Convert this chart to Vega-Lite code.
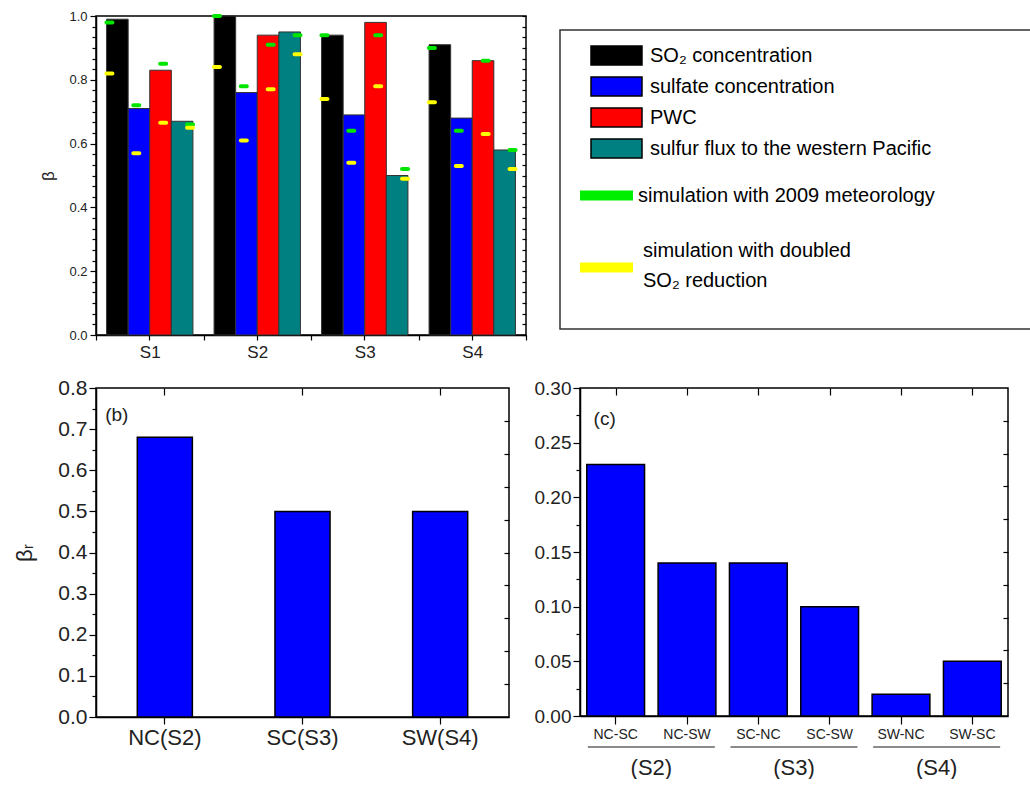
{
  "$schema": "https://vega.github.io/schema/vega-lite/v6.json",
  "padding": {"left": 13, "top": 9, "right": 0, "bottom": 0},
  "config": {
    "font": "Liberation Sans",
    "view": {"stroke": "black", "strokeWidth": 1.5},
    "axis": {"domainColor": "black", "tickColor": "black", "labelColor": "#222", "grid": false, "domainWidth": 1.5, "tickWidth": 1.2, "titleFontWeight": "normal", "titleColor": "#222"},
    "style": {"guide-label": {"lineHeight": 30}}
  },
  "datasets": {
    "top": [
      {"scenario": "S1", "var": "SO2", "beta": 0.99, "met2009": 0.98, "dbl": 0.82},
      {"scenario": "S1", "var": "sulfate", "beta": 0.71, "met2009": 0.72, "dbl": 0.57},
      {"scenario": "S1", "var": "PWC", "beta": 0.83, "met2009": 0.85, "dbl": 0.665},
      {"scenario": "S1", "var": "flux", "beta": 0.67, "met2009": 0.66, "dbl": 0.65},
      {"scenario": "S2", "var": "SO2", "beta": 1.0, "met2009": 1.0, "dbl": 0.84},
      {"scenario": "S2", "var": "sulfate", "beta": 0.76, "met2009": 0.78, "dbl": 0.61},
      {"scenario": "S2", "var": "PWC", "beta": 0.94, "met2009": 0.91, "dbl": 0.77},
      {"scenario": "S2", "var": "flux", "beta": 0.95, "met2009": 0.94, "dbl": 0.88},
      {"scenario": "S3", "var": "SO2", "beta": 0.94, "met2009": 0.94, "dbl": 0.74},
      {"scenario": "S3", "var": "sulfate", "beta": 0.69, "met2009": 0.64, "dbl": 0.54},
      {"scenario": "S3", "var": "PWC", "beta": 0.98, "met2009": 0.94, "dbl": 0.78},
      {"scenario": "S3", "var": "flux", "beta": 0.5, "met2009": 0.52, "dbl": 0.49},
      {"scenario": "S4", "var": "SO2", "beta": 0.91, "met2009": 0.9, "dbl": 0.73},
      {"scenario": "S4", "var": "sulfate", "beta": 0.68, "met2009": 0.64, "dbl": 0.53},
      {"scenario": "S4", "var": "PWC", "beta": 0.86, "met2009": 0.86, "dbl": 0.63},
      {"scenario": "S4", "var": "flux", "beta": 0.58, "met2009": 0.58, "dbl": 0.52}
    ],
    "b": [
      {"region": "NC(S2)", "br": 0.68},
      {"region": "SC(S3)", "br": 0.5},
      {"region": "SW(S4)", "br": 0.5}
    ],
    "c": [
      {"pair": "NC-SC", "group": "(S2)", "v": 0.23},
      {"pair": "NC-SW", "group": "(S2)", "v": 0.14},
      {"pair": "SC-NC", "group": "(S3)", "v": 0.14},
      {"pair": "SC-SW", "group": "(S3)", "v": 0.1},
      {"pair": "SW-NC", "group": "(S4)", "v": 0.02},
      {"pair": "SW-SC", "group": "(S4)", "v": 0.05}
    ]
  },
  "concat": [
    {
      "concat": [
        {
          "width": 430,
          "height": 319,
          "data": {"name": "top"},
          "layer": [
            {
              "mark": {"type": "bar", "stroke": "#333", "strokeWidth": 1},
              "encoding": {
                "x": {"field": "scenario", "type": "nominal", "scale": {"paddingInner": 0, "paddingOuter": 0},
                  "axis": {"title": null, "labelAngle": 0, "tickBand": "extent", "labelFontSize": 17, "labelPadding": 4, "tickSize": 5}},
                "xOffset": {"field": "var", "type": "nominal", "scale": {"domain": ["SO2", "sulfate", "PWC", "flux"], "paddingInner": 0, "paddingOuter": 0.49}},
                "y": {"field": "beta", "type": "quantitative", "scale": {"domain": [0, 1], "nice": false},
                  "axis": {"title": "β", "titleFontSize": 17, "titlePadding": 11, "values": [0, 0.2, 0.4, 0.6, 0.8, 1.0], "format": ".1f", "labelFontSize": 13, "labelPadding": 3, "tickSize": 6}},
                "fill": {"field": "var", "type": "nominal", "scale": {"domain": ["SO2", "sulfate", "PWC", "flux"], "range": ["#000000", "#0000ff", "#ff0000", "#008080"]}, "legend": null}
              }
            },
            {
              "mark": {"type": "tick", "color": "#00e600", "thickness": 4, "size": 10, "cornerRadius": 2, "opacity": 1},
              "encoding": {
                "x": {"field": "scenario", "type": "nominal", "axis": {"title": null, "orient": "bottom", "labels": false, "domain": false, "tickSize": 5}},
                "xOffset": {"field": "var", "type": "nominal", "scale": {"domain": ["SO2", "sulfate", "PWC", "flux"], "paddingInner": 0, "paddingOuter": 0}},
                "y": {"field": "met2009", "type": "quantitative", "scale": {"domain": [0, 1], "nice": false},
                  "axis": {"title": null, "orient": "right", "labels": false, "domain": false, "tickSize": -4, "values": [0, 0.0333, 0.0667, 0.1, 0.1333, 0.1667, 0.2, 0.2333, 0.2667, 0.3, 0.3333, 0.3667, 0.4, 0.4333, 0.4667, 0.5, 0.5333, 0.5667, 0.6, 0.6333, 0.6667, 0.7, 0.7333, 0.7667, 0.8, 0.8333, 0.8667, 0.9, 0.9333, 0.9667, 1]}}
              }
            },
            {
              "mark": {"type": "tick", "color": "#ffff00", "thickness": 4, "size": 10, "cornerRadius": 2, "opacity": 1},
              "encoding": {
                "x": {"field": "scenario", "type": "nominal", "axis": null},
                "xOffset": {"field": "var", "type": "nominal", "scale": {"domain": ["SO2", "sulfate", "PWC", "flux"], "paddingInner": 0, "paddingOuter": 0}},
                "y": {"field": "dbl", "type": "quantitative", "scale": {"domain": [0, 1], "nice": false},
                  "axis": {"title": null, "orient": "left", "labels": false, "domain": false, "tickSize": 4, "values": [0.0333, 0.0667, 0.1, 0.1333, 0.1667, 0.2333, 0.2667, 0.3, 0.3333, 0.3667, 0.4333, 0.4667, 0.5, 0.5333, 0.5667, 0.6333, 0.6667, 0.7, 0.7333, 0.7667, 0.8333, 0.8667, 0.9, 0.9333, 0.9667]}}
              }
            }
          ],
          "resolve": {"scale": {"xOffset": "independent"}, "axis": {"x": "independent", "y": "independent"}}
        },
        {
          "concat": [
            {
              "width": 10,
              "height": 9,
              "view": {"stroke": null},
              "data": {"values": [{"a": 1}]},
              "mark": {"type": "point", "opacity": 0},
              "encoding": {}
            },
            {
              "width": 475,
              "height": 299,
              "view": {"stroke": "#333", "strokeWidth": 1.5},
              "layer": [
                {
                  "data": {"values": [{"s": "SO₂ concentration"}, {"s": "sulfate concentration"}, {"s": "PWC"}, {"s": "sulfur flux to the western Pacific"}]},
                  "mark": {"type": "point", "filled": true, "opacity": 0},
                  "encoding": {
                    "fill": {"field": "s", "type": "nominal",
                      "scale": {"domain": ["SO₂ concentration", "sulfate concentration", "PWC", "sulfur flux to the western Pacific"], "range": ["#000000", "#0000ff", "#ff0000", "#008080"]},
                      "legend": {"orient": "none", "legendX": 46, "legendY": 15, "title": null, "direction": "vertical",
                        "symbolType": "M-2.684,-1H2.684V1H-2.684Z", "symbolSize": 361, "symbolOpacity": 1,
                        "symbolStrokeColor": "black", "symbolStrokeWidth": 1.5,
                        "labelFontSize": 20, "labelColor": "black", "labelOffset": 23, "labelLimit": 600, "rowPadding": 6,
                        "encode": {"symbols": {"update": {"stroke": {"value": "black"}, "strokeWidth": {"value": 1.5}, "opacity": {"value": 1}}}}}
                    }
                  }
                },
                {
                  "data": {"values": [{"m": "simulation with 2009 meteorology"}]},
                  "mark": {"type": "point", "opacity": 0},
                  "encoding": {
                    "stroke": {"field": "m", "type": "nominal",
                      "scale": {"domain": ["simulation with 2009 meteorology"], "range": ["#00ee00"]},
                      "legend": {"orient": "none", "legendX": 32, "legendY": 151, "title": null, "direction": "vertical",
                        "symbolType": "M-2.79,0H2.79", "symbolSize": 361, "symbolStrokeWidth": 10, "symbolOpacity": 1,
                        "labelFontSize": 20, "labelColor": "black", "labelOffset": 17, "labelLimit": 600}
                    }
                  }
                },
                {
                  "data": {"values": [{"d": "simulation with doubled SO₂ reduction"}]},
                  "mark": {"type": "point", "opacity": 0},
                  "encoding": {
                    "color": {"field": "d", "type": "nominal",
                      "scale": {"domain": ["simulation with doubled SO₂ reduction"], "range": ["#ffff00"]},
                      "legend": {"orient": "none", "legendX": 32, "legendY": 206, "title": null, "direction": "vertical",
                        "symbolType": "M-2.79,1.8H2.79", "symbolSize": 361, "symbolStrokeWidth": 10, "symbolOpacity": 1, "symbolStrokeColor": "#ffff00",
                        "labelFontSize": 20, "labelColor": "black", "labelOffset": 22, "labelLimit": 600,
                        "labelExpr": "['simulation with doubled', 'SO₂ reduction']"}
                    }
                  }
                }
              ],
              "resolve": {"scale": {"fill": "independent", "stroke": "independent", "color": "independent"}, "legend": {"fill": "independent", "stroke": "independent", "color": "independent"}}
            }
          ],
          "columns": 1,
          "align": "none",
          "spacing": 4,
          "resolve": {"scale": {"fill": "independent", "stroke": "independent", "color": "independent"}, "legend": {"fill": "independent", "stroke": "independent", "color": "independent"}}
        }
      ],
      "columns": 2,
      "align": "none",
      "spacing": 31,
      "resolve": {"scale": {"fill": "independent", "stroke": "independent", "color": "independent"}, "legend": {"fill": "independent", "stroke": "independent", "color": "independent"}}
    },
    {
      "concat": [
        {
          "width": 413,
          "height": 329,
          "data": {"name": "b"},
          "layer": [
            {
              "mark": {"type": "bar", "fill": "#0000ff", "stroke": "black", "strokeWidth": 1.5, "width": {"band": 0.4}},
              "encoding": {
                "x": {"field": "region", "type": "nominal", "sort": null, "scale": {"paddingInner": 0, "paddingOuter": 0},
                  "axis": {"title": null, "labelAngle": 0, "labelFontSize": 22, "labelPadding": 3, "tickSize": 7, "labelColor": "#222"}},
                "y": {"field": "br", "type": "quantitative", "scale": {"domain": [0, 0.8], "nice": false},
                  "axis": {"title": "βᵣ", "titleFontSize": 22, "titlePadding": 21, "values": [0, 0.1, 0.2, 0.3, 0.4, 0.5, 0.6, 0.7, 0.8], "format": ".1f", "labelFontSize": 21, "labelPadding": 2, "tickSize": 7}}
              }
            },
            {
              "data": {"values": [{"t": "(b)"}]},
              "mark": {"type": "text", "fontSize": 19, "color": "#222", "dx": -48, "baseline": "middle"},
              "encoding": {
                "text": {"field": "t"},
                "x": {"datum": "NC(S2)", "type": "nominal", "axis": {"orient": "top", "labels": false, "domain": false, "tickSize": -7, "title": null}},
                "y": {"datum": 0.735, "type": "quantitative", "axis": {"orient": "right", "labels": false, "domain": false, "tickSize": -5, "title": null, "values": [0.08, 0.16, 0.24, 0.32, 0.4, 0.48, 0.56, 0.64, 0.72]}}
              }
            },
            {
              "mark": {"type": "bar", "opacity": 0},
              "encoding": {
                "x": {"field": "region", "type": "nominal", "sort": null, "axis": null},
                "y": {"field": "br", "type": "quantitative", "axis": {"orient": "left", "labels": false, "domain": false, "tickSize": 4, "title": null, "values": [0.05, 0.15, 0.25, 0.35, 0.45, 0.55, 0.65, 0.75]}}
              }
            }
          ],
          "resolve": {"axis": {"x": "independent", "y": "independent"}}
        },
        {
          "width": 428,
          "height": 328,
          "data": {"name": "c"},
          "layer": [
            {
              "mark": {"type": "bar", "fill": "#0000ff", "stroke": "black", "strokeWidth": 1.5, "width": {"band": 0.81}},
              "encoding": {
                "x": {"field": "pair", "type": "nominal", "scale": {"domain": ["NC-SC", "NC-SW", "SC-NC", "SC-SW", "SW-NC", "SW-SC"], "paddingInner": 0, "paddingOuter": 0},
                  "axis": {"title": null, "labelAngle": 0, "labelFontSize": 14, "labelPadding": 3, "tickSize": 8}},
                "y": {"field": "v", "type": "quantitative", "scale": {"domain": [0, 0.3], "nice": false},
                  "axis": {"title": null, "values": [0, 0.05, 0.1, 0.15, 0.2, 0.25, 0.3], "format": ".2f", "labelFontSize": 19, "labelPadding": 2, "tickSize": 7}}
              }
            },
            {
              "data": {"values": [{"t": "(c)"}]},
              "mark": {"type": "text", "fontSize": 19, "color": "#222", "dx": -11, "baseline": "middle"},
              "encoding": {
                "text": {"field": "t"},
                "x": {"datum": "NC-SC", "type": "nominal", "scale": {"domain": ["NC-SC", "NC-SW", "SC-NC", "SC-SW", "SW-NC", "SW-SC"], "paddingInner": 0, "paddingOuter": 0},
                  "axis": {"orient": "top", "labels": false, "domain": false, "tickSize": -7, "title": null}},
                "y": {"datum": 0.272, "type": "quantitative", "scale": {"domain": [0, 0.3], "nice": false},
                  "axis": {"orient": "right", "labels": false, "domain": false, "tickSize": -5, "title": null, "values": [0.03, 0.06, 0.09, 0.12, 0.15, 0.18, 0.21, 0.24, 0.27]}}
              }
            },
            {
              "data": {"values": [{"group": "(S2)"}, {"group": "(S3)"}, {"group": "(S4)"}]},
              "mark": {"type": "tick", "color": "#222", "size": 127, "thickness": 1.5},
              "encoding": {
                "x": {"field": "group", "type": "nominal", "scale": {"domain": ["(S2)", "(S3)", "(S4)"], "paddingInner": 0, "paddingOuter": 0},
                  "axis": {"orient": "bottom", "offset": 30, "domain": false, "ticks": false, "tickSize": 0, "labelPadding": 11, "labelFontSize": 22, "labelAngle": 0, "title": null}},
                "y": {"datum": -0.0284, "type": "quantitative", "scale": {"domain": [0, 0.3], "nice": false},
                  "axis": {"orient": "left", "labels": false, "domain": false, "tickSize": 4, "title": null, "values": [0.025, 0.075, 0.125, 0.175, 0.225, 0.275]}}
              }
            }
          ],
          "resolve": {"scale": {"x": "independent"}, "axis": {"x": "independent", "y": "independent"}}
        }
      ],
      "columns": 2,
      "align": "none",
      "spacing": 22
    }
  ],
  "columns": 1,
  "align": "none",
  "spacing": 15,
  "resolve": {"scale": {"fill": "independent", "stroke": "independent", "color": "independent"}, "legend": {"fill": "independent", "stroke": "independent", "color": "independent"}}
}
